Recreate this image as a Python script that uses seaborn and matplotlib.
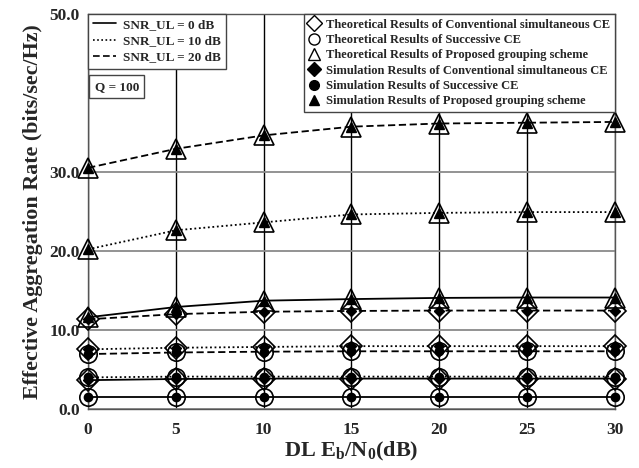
import matplotlib
matplotlib.use("Agg")
import matplotlib.pyplot as plt
from matplotlib.lines import Line2D
import seaborn as sns
import pandas as pd

x_db = [0, 5, 10, 15, 20, 25, 30]

# Proposed grouping scheme
prop_0 = [11.6, 12.9, 13.7, 13.9, 14.05, 14.1, 14.1]
prop_10 = [20.2, 22.6, 23.6, 24.6, 24.8, 24.9, 24.9]
prop_20 = [30.5, 32.9, 34.6, 35.7, 36.1, 36.2, 36.3]
# Conventional simultaneous CE
conv_0 = [3.65, 3.8, 3.85, 3.85, 3.85, 3.85, 3.85]
conv_10 = [7.55, 7.75, 7.85, 7.95, 7.95, 7.95, 7.95]
conv_20 = [11.35, 12.0, 12.3, 12.4, 12.45, 12.45, 12.45]
# Successive CE
succ_0 = [1.55, 1.55, 1.55, 1.55, 1.55, 1.55, 1.55]
succ_10 = [4.0, 4.1, 4.1, 4.1, 4.1, 4.1, 4.1]
succ_20 = [6.95, 7.15, 7.25, 7.3, 7.3, 7.3, 7.3]

snr_labels = ["SNR_UL = 0 dB", "SNR_UL = 10 dB", "SNR_UL = 20 dB"]
scheme_labels = ["Conventional simultaneous CE", "Successive CE", "Proposed grouping scheme"]
y_ticks = [0, 10, 20, 30, 50]
x_ticks = [0, 5, 10, 15, 20, 25, 30]

rows = []
series = {
    ("Conventional simultaneous CE", 0): conv_0,
    ("Conventional simultaneous CE", 1): conv_10,
    ("Conventional simultaneous CE", 2): conv_20,
    ("Successive CE", 0): succ_0,
    ("Successive CE", 1): succ_10,
    ("Successive CE", 2): succ_20,
    ("Proposed grouping scheme", 0): prop_0,
    ("Proposed grouping scheme", 1): prop_10,
    ("Proposed grouping scheme", 2): prop_20,
}
for (scheme, si), vals in series.items():
    for xv, yv in zip(x_db, vals):
        rows.append({"x": xv, "y": yv, "scheme": scheme, "snr": snr_labels[si]})
df = pd.DataFrame(rows)

sns.set_theme(style="white")
plt.rcParams["font.family"] = ["Liberation Serif", "DejaVu Serif"]
plt.rcParams["font.weight"] = "bold"
plt.rcParams["mathtext.fontset"] = "custom"
plt.rcParams["mathtext.rm"] = "Liberation Serif:bold"
plt.rcParams["mathtext.it"] = "Liberation Serif:bold"
plt.rcParams["mathtext.bf"] = "Liberation Serif:bold"

fig = plt.figure(figsize=(6.39, 4.68), dpi=100)
ax = fig.add_axes([0.138, 0.126, 0.824, 0.845])

ax.set_xlim(0, 30)
ax.set_ylim(0, 50)

# grid
for xv in x_ticks:
    ax.axvline(xv, color="black", lw=1.0, zorder=1)
for yv in y_ticks:
    ax.axhline(yv, color="#8a8a8a", lw=1.3, zorder=1)

styles = {snr_labels[0]: "-", snr_labels[1]: (0, (1, 1.5)), snr_labels[2]: (0, (4, 2))}
markers = {"Conventional simultaneous CE": "D", "Successive CE": "o", "Proposed grouping scheme": "^"}
open_ms = {"Conventional simultaneous CE": 11, "Successive CE": 12.5, "Proposed grouping scheme": 14}
fill_ms = {"Conventional simultaneous CE": 5, "Successive CE": 6, "Proposed grouping scheme": 7}

for scheme in scheme_labels:
    for snr in snr_labels:
        sub = df[(df.scheme == scheme) & (df.snr == snr)]
        sns.lineplot(data=sub, x="x", y="y", ax=ax, color="black", lw=1.3,
                     linestyle=styles[snr], marker=markers[scheme],
                     markersize=open_ms[scheme], markerfacecolor="none",
                     markeredgecolor="black", markeredgewidth=1.2,
                     legend=False, zorder=3, clip_on=False)
        ax.plot(sub["x"], sub["y"], linestyle="none", marker=markers[scheme],
                markersize=fill_ms[scheme], color="black", zorder=4, clip_on=False)

ax.set_xticks(x_ticks)
ax.set_xticklabels([str(v) for v in x_ticks], fontsize=12.5, fontweight="bold")
ax.set_yticks(y_ticks)
ax.set_yticklabels([f"{v:.1f}" for v in y_ticks], fontsize=12.5, fontweight="bold")
ax.tick_params(axis="x", length=0, pad=9)
ax.tick_params(axis="y", length=0, pad=6)
for s in ax.spines.values():
    s.set_color("#555555")
    s.set_linewidth(1.0)

ax.set_xlabel(r"DL E$_\mathrm{b}$/N$_\mathrm{0}$(dB)", fontsize=16, fontweight="bold", labelpad=2)
ax.set_ylabel("Effective Aggregation Rate (bits/sec/Hz)", fontsize=15.8, fontweight="bold", labelpad=5)

# legend 1: line styles
h1 = [Line2D([0], [0], color="black", lw=1.2, linestyle=styles[s]) for s in snr_labels]
leg1 = ax.legend(h1, snr_labels, loc="upper left", bbox_to_anchor=(0.0, 1.0),
                 prop={"family": "Liberation Serif", "weight": "bold", "size": 9.5},
                 frameon=True, fancybox=False, edgecolor="#444444", framealpha=1,
                 handlelength=1.7, borderpad=0.4, labelspacing=0.3, handletextpad=0.55,
                 borderaxespad=0)
leg1.get_frame().set_linewidth(1.0)
leg1.set_zorder(6)
ax.add_artist(leg1)

# legend 2: markers
h2, l2 = [], []
for scheme in scheme_labels:
    h2.append(Line2D([0], [0], linestyle="none", marker=markers[scheme], markersize=8,
                     markerfacecolor="white", markeredgecolor="black", markeredgewidth=1.0))
    l2.append("Theoretical Results of " + scheme)
for scheme in scheme_labels:
    h2.append(Line2D([0], [0], linestyle="none", marker=markers[scheme], markersize=7,
                     color="black"))
    l2.append("Simulation Results of " + scheme)
leg2 = ax.legend(h2, l2, loc="upper right", bbox_to_anchor=(1.0, 1.0),
                 prop={"family": "Liberation Serif", "weight": "bold", "size": 9},
                 frameon=True, fancybox=False, edgecolor="#444444", framealpha=1,
                 handlelength=0.8, borderpad=0.4, labelspacing=0.27, handletextpad=0.5,
                 borderaxespad=0)
leg2.get_frame().set_linewidth(1.0)
leg2.set_zorder(6)

ax.text(0.012, 0.815, "Q = 100", transform=ax.transAxes, fontsize=9.5, fontweight="bold",
        va="center", ha="left", zorder=7,
        bbox=dict(boxstyle="square,pad=0.4", facecolor="white", edgecolor="#444444", lw=1.0))

fig.savefig("out.png", dpi=100)
